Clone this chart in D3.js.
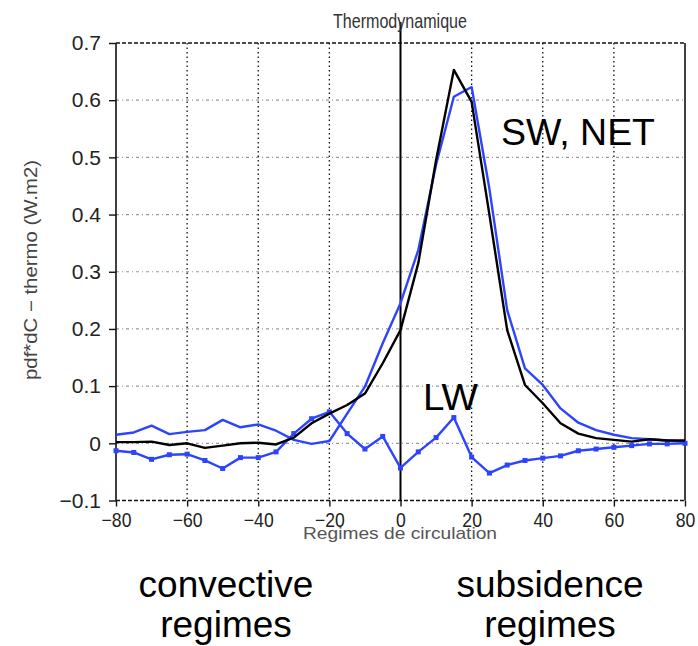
<!DOCTYPE html>
<html>
<head>
<meta charset="utf-8">
<script src="https://cdn.jsdelivr.net/npm/d3@7"></script>
<style>
  body { margin: 0; background: #fff; }
  svg { display: block; }
</style>
</head>
<body>
<svg width="698" height="646"></svg>
<script>
// regimes de circulation (x), every 5 units
const regimes = d3.range(-80, 81, 5);

// SW (blue, no markers)
const sw = [0.015, 0.019, 0.031, 0.016, 0.020, 0.023, 0.041, 0.028, 0.033, 0.022,
  0.006, -0.001, 0.004, 0.052, 0.099, 0.175, 0.245, 0.338, 0.487, 0.606,
  0.623, 0.445, 0.233, 0.131, 0.102, 0.061, 0.036, 0.023, 0.015, 0.009,
  0.007, 0.005, 0.003];

// NET (black)
const net = [0.002, 0.002, 0.003, -0.003, 0.000, -0.008, -0.004, 0.000, 0.001, -0.002,
  0.010, 0.035, 0.052, 0.067, 0.087, 0.140, 0.198, 0.315, 0.495, 0.653,
  0.597, 0.400, 0.198, 0.102, 0.070, 0.035, 0.017, 0.009, 0.006, 0.003,
  0.007, 0.005, 0.005];

// LW (blue with markers)
const lw = [-0.013, -0.016, -0.028, -0.020, -0.019, -0.030, -0.044, -0.025, -0.025, -0.015,
  0.017, 0.043, 0.055, 0.017, -0.010, 0.012, -0.043, -0.015, 0.010, 0.045,
  -0.024, -0.052, -0.038, -0.030, -0.026, -0.022, -0.013, -0.010, -0.007, -0.004,
  -0.001, -0.001, 0.000];

const xTicks = d3.range(-80, 81, 20);
const yTicks = d3.range(-0.1, 0.71, 0.1).map(v => +v.toFixed(1));

const blue = "#2d44ff";
const svg = d3.select("svg");

const pLeft = 116, pRight = 685, pTop = 43, pBottom = 500.5;
const x = d3.scaleLinear().domain([-80, 80]).range([pLeft, pRight]);
const y = d3.scaleLinear().domain([-0.1, 0.7]).range([pBottom, pTop]);

// grid lines
svg.append("g")
  .selectAll("line")
  .data(yTicks.filter(v => v > -0.1 && v < 0.7))
  .join("line")
    .attr("x1", pLeft).attr("x2", pRight)
    .attr("y1", d => y(d)).attr("y2", d => y(d))
    .attr("stroke", "#9a9a9a")
    .attr("stroke-width", 1.2)
    .attr("stroke-dasharray", "3,3,1,3");

svg.append("g")
  .selectAll("line")
  .data(xTicks.filter(v => v > -80 && v < 80 && v !== 0))
  .join("line")
    .attr("x1", d => x(d)).attr("x2", d => x(d))
    .attr("y1", pTop).attr("y2", pBottom)
    .attr("stroke", "#111")
    .attr("stroke-width", 1.3)
    .attr("stroke-dasharray", "1.5,3");

// frame: dashed top/bottom, solid sides
[pTop, pBottom].forEach(yy => {
  svg.append("line")
    .attr("x1", pLeft).attr("x2", pRight)
    .attr("y1", yy).attr("y2", yy)
    .attr("stroke", "#111").attr("stroke-width", 1.4)
    .attr("stroke-dasharray", "4,2");
});
[pLeft, pRight].forEach(xx => {
  svg.append("line")
    .attr("x1", xx).attr("x2", xx)
    .attr("y1", pTop).attr("y2", pBottom)
    .attr("stroke", "#111").attr("stroke-width", 1.6);
});

// zero separator
svg.append("line")
  .attr("x1", x(0)).attr("x2", x(0))
  .attr("y1", 22).attr("y2", pBottom)
  .attr("stroke", "#000").attr("stroke-width", 2);

// axes
const yAxis = svg.append("g")
  .attr("transform", `translate(${pLeft},0)`)
  .call(d3.axisLeft(y).tickValues(yTicks).tickSize(7).tickPadding(8)
    .tickFormat(d => d === 0 ? "0" : d3.format(".1f")(d).replace("-", "\u2212")));
yAxis.select(".domain").remove();
yAxis.selectAll("line").attr("stroke", "#111").attr("stroke-width", 1.4);
yAxis.selectAll("text")
  .attr("font-family", "'Liberation Sans', Arial, sans-serif")
  .attr("font-size", 21)
  .attr("fill", "#222");

const xAxis = svg.append("g")
  .attr("transform", `translate(0,${pBottom})`)
  .call(d3.axisBottom(x).tickValues(xTicks).tickSize(6).tickPadding(6)
    .tickFormat(d => String(d).replace("-", "\u2212")));
xAxis.select(".domain").remove();
xAxis.selectAll("line").attr("stroke", "#111").attr("stroke-width", 1.4);
xAxis.selectAll("text")
  .attr("font-family", "'Liberation Sans', Arial, sans-serif")
  .attr("font-size", 20)
  .attr("fill", "#222")
  .attr("transform", "scale(0.88,1)");

// series
const line = d3.line().x((d, i) => x(regimes[i])).y(d => y(d));

svg.append("path").datum(sw)
  .attr("fill", "none").attr("stroke", blue).attr("stroke-width", 2.4)
  .attr("stroke-linejoin", "round").attr("d", line);

svg.append("path").datum(lw)
  .attr("fill", "none").attr("stroke", blue).attr("stroke-width", 2.4)
  .attr("stroke-linejoin", "round").attr("d", line);

svg.append("g")
  .selectAll("rect")
  .data(lw)
  .join("rect")
    .attr("x", (d, i) => x(regimes[i]) - 2.5)
    .attr("y", d => y(d) - 2.5)
    .attr("width", 5).attr("height", 5)
    .attr("fill", blue);

svg.append("path").datum(net)
  .attr("fill", "none").attr("stroke", "#000").attr("stroke-width", 2.4)
  .attr("stroke-linejoin", "round").attr("d", line);

// titles
const small = "'Liberation Sans', Arial, sans-serif";
svg.append("text")
  .attr("x", 333).attr("y", 28)
  .attr("font-family", small)
  .attr("font-size", 21).attr("fill", "#333")
  .attr("textLength", 134).attr("lengthAdjust", "spacingAndGlyphs")
  .text("Thermodynamique");

svg.append("text")
  .attr("transform", "translate(37,380) rotate(-90)")
  .attr("font-family", small)
  .attr("font-size", 18).attr("fill", "#444")
  .attr("textLength", 220).attr("lengthAdjust", "spacingAndGlyphs")
  .text("pdf*dC \u2212 thermo (W.m2)");

svg.append("text")
  .attr("x", 303).attr("y", 539)
  .attr("font-family", small)
  .attr("font-size", 17).attr("fill", "#555")
  .attr("textLength", 194).attr("lengthAdjust", "spacingAndGlyphs")
  .text("Regimes de circulation");

// annotations
const big = "'Liberation Sans', Arial, sans-serif";
svg.append("text").attr("x", 501).attr("y", 145)
  .attr("font-family", big).attr("font-size", 37)
  .attr("textLength", 154).attr("lengthAdjust", "spacingAndGlyphs")
  .text("SW, NET");
svg.append("text").attr("x", 423).attr("y", 410)
  .attr("font-family", big).attr("font-size", 37)
  .attr("textLength", 55).attr("lengthAdjust", "spacingAndGlyphs")
  .text("LW");

[["convective", 226, 597], ["regimes", 226, 637], ["subsidence", 550, 597], ["regimes", 550, 637]]
  .forEach(([t, tx, ty]) => {
    svg.append("text").attr("x", tx).attr("y", ty)
      .attr("text-anchor", "middle")
      .attr("font-family", big).attr("font-size", 37).text(t);
  });
</script>
</body>
</html>
